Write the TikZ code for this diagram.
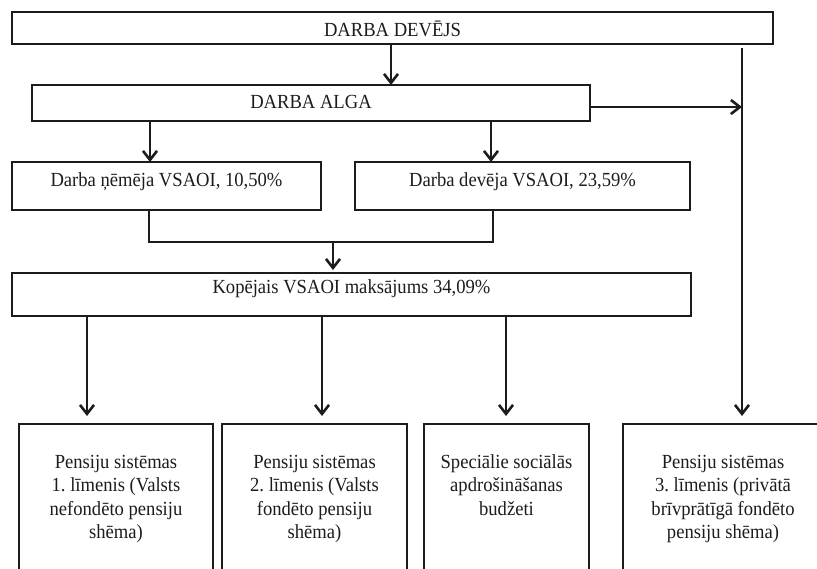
\documentclass[tikz,border=0pt]{standalone}
\usepackage{fontspec}
\setmainfont[FakeStretch=0.93]{Liberation Serif}
\usetikzlibrary{arrows.meta,calc}
\definecolor{ink}{HTML}{1C1C1C}
\tikzset{
  box/.style={draw=ink, line width=2pt, inner sep=0pt, outer sep=0pt, anchor=north west,
    font=\fontsize{20}{23.5}\selectfont, text=ink},
  arr/.style={draw=ink, line width=2.6pt, -{Straight Barb[length=9pt,width=14pt]}},
  conn/.style={draw=ink, line width=2.6pt, line join=miter},
}
\begin{document}
\begin{tikzpicture}[x=1pt,y=-1pt]
\useasboundingbox (0,0) rectangle (817,568);
\clip (0,0) rectangle (817,568);
% main boxes
\node[box, minimum width=761pt, text height=24.4pt, text depth=7.3pt] (dev) at (12,12) {DARBA DEVĒJS};
\node[box, minimum width=558pt, text height=23.3pt, text depth=12.7pt] (alga) at (32,85) {DARBA ALGA};
\node[box, minimum width=309pt, text height=24.3pt, text depth=23.7pt] (nem) at (12,162) {Darba ņēmēja VSAOI, 10,50\%};
\node[box, minimum width=335pt, text height=24.3pt, text depth=23.7pt] (dvj) at (355,162) {Darba devēja VSAOI, 23,59\%};
\node[box, minimum width=679pt, text height=20.5pt, text depth=22.5pt] (kop) at (12,273) {Kopējais VSAOI maksājums 34,09\%};
% bottom boxes
\node[box] (p1) at (19,424) {\parbox[c][170pt][t]{194pt}{\centering\rule{0pt}{44pt}Pensiju sistēmas\\1.~līmenis (Valsts\\nefondēto pensiju\\shēma)}};
\node[box] (p2) at (222,424) {\parbox[c][170pt][t]{185pt}{\centering\rule{0pt}{44pt}Pensiju sistēmas\\2.~līmenis (Valsts\\fondēto pensiju\\shēma)}};
\node[box] (p3) at (424,424) {\parbox[c][170pt][t]{165pt}{\centering\rule{0pt}{44pt}Speciālie sociālās\\apdrošināšanas\\budžeti}};
\node[box] (p4) at (623,424) {\parbox[c][170pt][t]{200pt}{\centering\rule{0pt}{44pt}Pensiju sistēmas\\3.~līmenis (privātā\\brīvprātīgā fondēto\\pensiju shēma)}};
% reference coordinates
\coordinate (xa) at (391,0);
\coordinate (xr) at (742,0);
\coordinate (x1) at (150,0);
\coordinate (x2) at (491,0);
\coordinate (jl) at (149,242);
\coordinate (jr) at (493,242);
\coordinate (jm) at (333,242);
\coordinate (k1) at (87,0);
\coordinate (k2) at (322,0);
\coordinate (k3) at (506,0);
% connectors
\draw[arr] (dev.south -| xa) -- (alga.north -| xa);
\draw[arr, shorten >=8pt] ($(dev.south -| xr)+(0,4)$) -- (p4.north -| xr);
\draw[arr] ($(alga.east)+(0,4)$) -- ($(alga.east -| xr)+(0,4)$);
\draw[arr] (alga.south -| x1) -- (nem.north -| x1);
\draw[arr] (alga.south -| x2) -- (dvj.north -| x2);
\draw[conn] (nem.south -| jl) -- (jl) -- (jr) -- (dvj.south -| jr);
\draw[arr, shorten >=3pt] (jm) -- (kop.north -| jm);
\draw[arr, shorten >=8pt] (kop.south -| k1) -- (p1.north -| k1);
\draw[arr, shorten >=8pt] (kop.south -| k2) -- (p2.north -| k2);
\draw[arr, shorten >=8pt] (kop.south -| k3) -- (p3.north -| k3);
\end{tikzpicture}
\end{document}
